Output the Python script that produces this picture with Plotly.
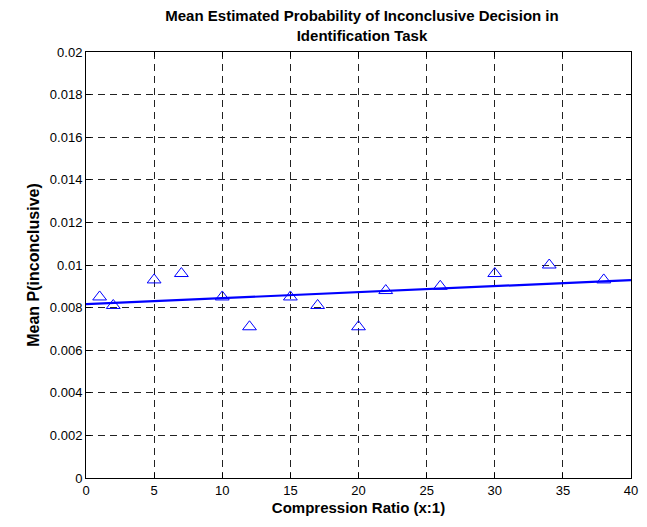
import plotly.graph_objects as go

# Mean P(inconclusive) for each compression ratio
ratios = [1, 2, 5, 7, 10, 12, 15, 17, 20, 22, 26, 30, 34, 38]
p_inconclusive = [0.0085, 0.0081, 0.0093, 0.0096, 0.0085, 0.0071, 0.0085,
                  0.0081, 0.0071, 0.0088, 0.0090, 0.0096, 0.0100, 0.0093]

# Linear trend line end points
trend_x = [0, 40]
trend_y = [0.00816, 0.00929]

x_ticks = [0, 5, 10, 15, 20, 25, 30, 35, 40]
y_ticks = [0, 0.002, 0.004, 0.006, 0.008, 0.01, 0.012, 0.014, 0.016, 0.018, 0.02]
y_tick_text = ["0", "0.002", "0.004", "0.006", "0.008", "0.01",
               "0.012", "0.014", "0.016", "0.018", "0.02"]

FONT = "Liberation Sans, Arial, sans-serif"

fig = go.Figure()
fig.add_trace(go.Scatter(
    x=ratios, y=p_inconclusive, mode="markers",
    marker=dict(symbol="triangle-up-open", size=12, color="#0000ff",
                line=dict(width=1, color="#0000ff")),
    showlegend=False, cliponaxis=False,
))
fig.add_trace(go.Scatter(
    x=trend_x, y=trend_y, mode="lines",
    line=dict(color="#0000ff", width=2.2),
    showlegend=False,
))

axis_common = dict(
    showline=True, linecolor="black", linewidth=1, mirror="allticks",
    ticks="inside", ticklen=5, tickcolor="black", tickwidth=1,
    showgrid=True, gridcolor="#222222", gridwidth=1, griddash="7px,5px",
    zeroline=False, tickfont=dict(family=FONT, size=13, color="black"),
)

fig.update_xaxes(
    range=[0, 40], tickvals=x_ticks,
    title=dict(text="<b>Compression Ratio (x:1)</b>",
               font=dict(family=FONT, size=15, color="black"), standoff=5),
    **axis_common,
)
fig.update_yaxes(
    range=[0, 0.02], tickvals=y_ticks, ticktext=y_tick_text,
    title=dict(text="<b>Mean P(inconclusive)</b>",
               font=dict(family=FONT, size=16, color="black"), standoff=6),
    **axis_common,
)

fig.update_layout(
    width=647, height=527,
    margin=dict(l=86, r=9, t=52, b=49),
    paper_bgcolor="white", plot_bgcolor="white",
    title=dict(
        text="<b>Mean Estimated Probability of Inconclusive Decision in<br>Identification Task</b>",
        font=dict(family=FONT, size=15, color="black"),
        x=(86 + 638) / 2 / 647, xanchor="center",
        y=1 - 21 / 527, yanchor="middle",
    ),
)

fig.write_html("out.html")
